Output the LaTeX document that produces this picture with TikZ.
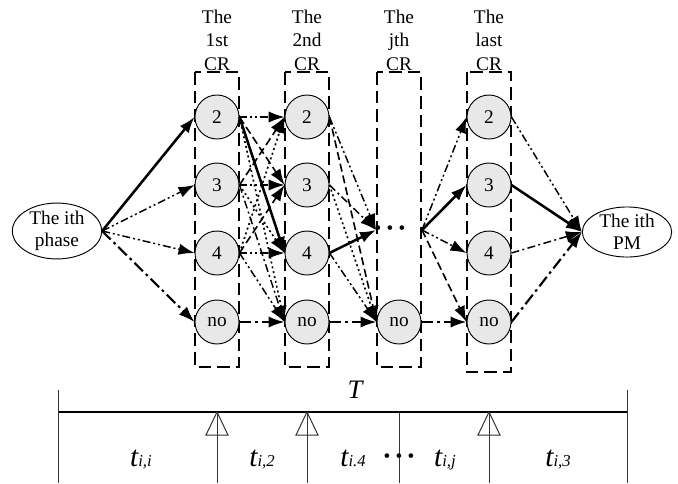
\documentclass[tikz,border=0pt]{standalone}
\usepackage{fontspec}
\setmainfont{Liberation Serif}
\usetikzlibrary{arrows.meta,shapes.geometric}

\tikzset{
  crbox/.style={draw,line width=1.9pt,dash pattern=on 9.5pt off 4.5pt},
  crtitle/.style={anchor=south,align=center,inner sep=1pt,font=\fontsize{14.5}{17.5}\selectfont},
  state/.style={circle,draw,line width=0.7pt,fill=gray!18,minimum size=33pt,inner sep=0pt,font=\fontsize{14.5}{16}\selectfont},
  ends/.style={ellipse,draw,line width=0.7pt,minimum width=67pt,minimum height=32pt,inner sep=0pt,align=center,font=\fontsize{14.5}{16.5}\selectfont},
  tip/.style={-{Latex[length=12pt,width=8.5pt]}},
  boldarr/.style={tip,line width=1.9pt},
  dddarr/.style={tip,line width=1.1pt,dash pattern=on 6pt off 2.2pt on 1.5pt off 2.2pt on 1.5pt off 2.2pt},
  dcarr/.style={tip,line width=1.6pt,dash pattern=on 9pt off 3pt on 2pt off 3pt},
  dcthin/.style={tip,line width=1.1pt,dash pattern=on 6pt off 2.5pt on 1.5pt off 2.5pt},
  dsharr/.style={tip,line width=1.2pt,dash pattern=on 6pt off 3pt},
  dtarr/.style={tip,line width=1.2pt,dash pattern=on 1.5pt off 2.2pt},
  tick/.style={line width=0.75pt,black!80},
  tlab/.style={anchor=base,inner sep=0pt}
}
\newcommand{\tsub}[1]{{\fontsize{22}{26}\selectfont\itshape t}{\fontsize{12.5}{14}\selectfont\itshape #1}}

\begin{document}
\begin{tikzpicture}[x=0.75pt,y=-0.75pt]
  \useasboundingbox (0,0) rectangle (678,483);

  % CR columns
  \foreach \cx/\lab/\bot in {217/1st/367, 307/2nd/367, 399/jth/367, 489/last/372} {
    \draw[crbox] (\cx-22,72) rectangle (\cx+22,\bot);
    \node[crtitle] at (\cx,72) {The\\\lab\\CR};
  }
  \foreach \cx/\nm in {217/a, 307/b, 489/z} {
    \node[state] (\nm2) at (\cx,117) {2};
    \node[state] (\nm3) at (\cx,185) {3};
    \node[state] (\nm4) at (\cx,253) {4};
    \node[state] (\nm no) at (\cx,322) {no};
  }
  \node[state] (jno) at (399,322) {no};
  \node[inner sep=0pt,font=\fontsize{14.5}{16}\selectfont] (jdots) at (390,230) {\textbullet\hspace{4pt}\textbullet\hspace{4pt}\textbullet};
  \coordinate (jin) at (376,230);
  \coordinate (jout) at (422,230);

  \node[ends] (phase) at (57,231) {The ith\\phase};
  \node[ends,minimum height=31pt] (pm) at (627,232) {The ith\\PM};

  % phase -> 1st CR
  \draw[boldarr] (phase.east) -- (a2.west);
  \draw[dddarr] (phase.east) -- (a3.west);
  \draw[dddarr] (phase.east) -- (a4.west);
  \draw[dcarr] (phase.east) -- (ano.west);

  % 1st CR -> 2nd CR
  \draw[dddarr] (a2.east) -- (b2.west);
  \draw[dsharr] (a2.east) -- (b3.west);
  \draw[boldarr] (a2.east) -- (b4.west);
  \draw[dtarr] (a2.east) -- (bno.west);
  \draw[dsharr] (a3.east) -- (b2.west);
  \draw[dddarr] (a3.east) -- (b3.west);
  \draw[dtarr] (a3.east) -- (b4.west);
  \draw[dcthin] (a3.east) -- (bno.west);
  \draw[dtarr] (a4.east) -- (b2.west);
  \draw[dsharr] (a4.east) -- (b3.west);
  \draw[dddarr] (a4.east) -- (b4.west);
  \draw[dddarr] (a4.east) -- (bno.west);
  \draw[dcarr] (ano.east) -- (bno.west);

  % 2nd CR -> jth CR
  \draw[dddarr] (b2.east) -- (jin);
  \draw[dsharr] (b2.east) -- (jno.west);
  \draw[dcthin] (b3.east) -- (jin);
  \draw[dtarr] (b3.east) -- (jno.west);
  \draw[boldarr] (b4.east) -- (jin);
  \draw[dddarr] (b4.east) -- (jno.west);
  \draw[dcarr] (bno.east) -- (jno.west);

  % jth CR -> last CR
  \draw[dddarr] (jout) -- (z2.west);
  \draw[boldarr] (jout) -- (z3.west);
  \draw[dddarr] (jout) -- (z4.west);
  \draw[dsharr] (jout) -- (zno.west);
  \draw[dcarr] (jno.east) -- (zno.west);

  % last CR -> PM
  \draw[dddarr] (z2.east) -- (pm.west);
  \draw[boldarr] (z3.east) -- (pm.west);
  \draw[dcthin] (z4.east) -- (pm.west);
  \draw[dcarr] (zno.east) -- (pm.west);

  % time axis
  \draw[line width=1.9pt] (58,412) -- (627,412);
  \draw[tick] (58,390) -- (58,483);
  \draw[tick] (627,390) -- (627,483);
  \draw[tick] (399,412) -- (399,483);
  \foreach \tx in {217,307,489} {
    \draw[tick] (\tx,412) -- (\tx,483);
    \draw[tick] (\tx,412) -- (\tx-11,435) -- (\tx+11,435) -- cycle;
  }
  \node[tlab,font=\fontsize{20}{24}\selectfont\itshape] at (355,398) {T};
  \node[tlab] at (141,466) {\tsub{i,i}};
  \node[tlab] at (262,466) {\tsub{i,2}};
  \node[tlab] at (353,466) {\tsub{i.4}};
  \node[tlab,font=\fontsize{14.5}{16}\selectfont] at (399,462) {\textbullet\hspace{4pt}\textbullet\hspace{4pt}\textbullet};
  \node[tlab] at (445,466) {\tsub{i,j}};
  \node[tlab] at (558,466) {\tsub{i,3}};
\end{tikzpicture}
\end{document}
